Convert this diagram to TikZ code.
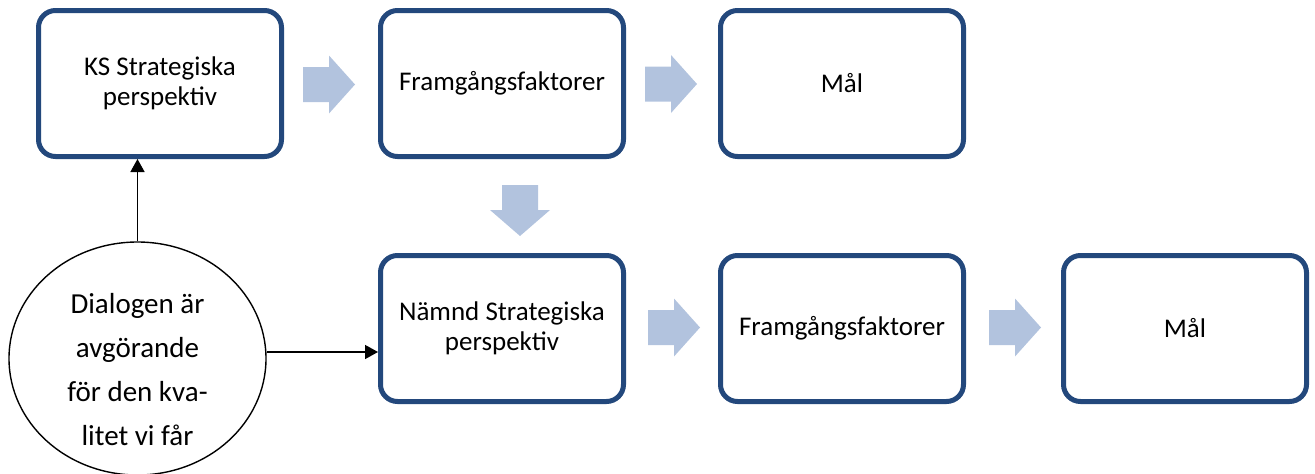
\documentclass[tikz,border=0pt]{standalone}
\usepackage{fontspec}
\setmainfont{Carlito}
\usetikzlibrary{arrows.meta,shapes.geometric}
\definecolor{boxblue}{HTML}{23487C}
\definecolor{arrowfill}{HTML}{B2C3DE}
\tikzset{
  stepbox/.style={draw=boxblue, line width=5pt, rounded corners=17pt, fill=white,
    minimum width=243pt, minimum height=146pt, align=center,
    font=\fontsize{27}{30}\selectfont},
  dialog/.style={ellipse, draw=black, line width=1.4pt, fill=white,
    minimum width=257pt, minimum height=233pt, inner sep=0pt},
  dialogtext/.style={align=center, inner sep=0pt, font=\fontsize{29}{44}\selectfont},
  conn/.style={line width=1.5pt, -{Triangle[length=13pt,width=14pt]}},
  barrow/.style={fill=arrowfill}
}
\newcommand{\blockR}[2]{\fill[barrow] (#1,#2-17.5) -- ++(26,0) -- ++(0,-11.5) -- ++(26,29) -- ++(-26,29) -- ++(0,-11.5) -- ++(-26,0) -- cycle;}
\begin{document}
\begin{tikzpicture}[x=1pt,y=-1pt]
\useasboundingbox (0,0) rectangle (1315,474);
\node[stepbox] (b1) at (160,83.5) {KS Strategiska\\perspektiv};
\node[stepbox] (b2) at (502,83.5) {Framgångsfaktorer};
\node[stepbox] (b3) at (842,83.5) {Mål};
\node[stepbox] (b4) at (502,328.5) {Nämnd Strategiska\\perspektiv};
\node[stepbox] (b5) at (842,328.5) {Framgångsfaktorer};
\node[stepbox] (b6) at (1185,328.5) {Mål};
\node[dialog] (d) at (137.5,358.5) {};
\node[dialogtext] (dt) at ([yshift=-11pt]d.center) {Dialogen är\\avgörande\\för den kva-\\litet vi får};
\blockR{303}{84.5}
\blockR{645}{84}
\blockR{648}{327.5}
\blockR{989}{327.5}
\fill[barrow] (502,185) -- (538,185) -- (538,210) -- (550,210) -- (520,236) -- (490,210) -- (502,210) -- cycle;
\draw[conn] (d.north) -- (d.north |- b1.south);
\draw[conn] ([yshift=6.5pt]d.east) -- ([yshift=-23.5pt]b4.west);
\end{tikzpicture}
\end{document}
